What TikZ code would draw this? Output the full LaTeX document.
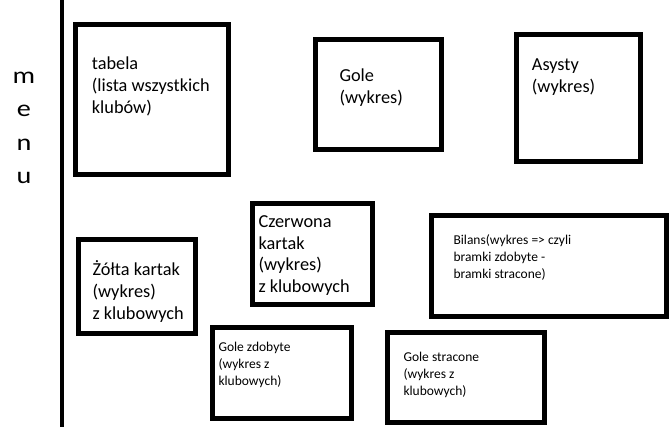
\documentclass[tikz,border=0pt]{standalone}
\usepackage{fontspec}
\usepackage{graphicx}
\setmainfont{Carlito}
\newcommand{\wide}[1]{\scalebox{1.2}[1]{#1}}
\begin{document}
\begin{tikzpicture}[x=1pt,y=-1pt,
  box/.style={draw=black,line width=5pt},
  big/.style={anchor=base west,align=left,inner sep=0pt,font=\fontsize{18.3}{21.6}\selectfont},
  small/.style={anchor=base west,align=left,inner sep=0pt,font=\fontsize{13.5}{16.7}\selectfont}]
\useasboundingbox (0,0) rectangle (670,427);
\coordinate (railtop) at (61.8,0);
\coordinate (railbot) at (61.8,427);
\draw[line width=4.5pt] (railtop) -- (railbot);
\node[anchor=base,align=center,inner sep=0pt,font=\fontsize{23.5}{33.5}\selectfont] (menu) at (24,184) {\wide{m}\\\wide{e}\\\wide{n}\\\wide{u}};
% boxes
\draw[box] (75,25) rectangle (228,175);
\node[big] (tabela) at (91.7,113.2) {tabela\\(lista wszystkich\\klubów)};
\draw[box] (315,40) rectangle (441,150);
\node[big] (gole) at (339.3,103.6) {Gole\\(wykres)};
\draw[box] (516,35) rectangle (640,162);
\node[big] (asysty) at (531.7,92.6) {Asysty\\(wykres)};
\draw[box] (78,240) rectangle (195,334);
\node[big] (zolta) at (92.3,319.2) {Żółta kartak\\(wykres)\\z klubowych};
\draw[box] (252.5,203.5) rectangle (372,305);
\node[big] (czerwona) at (258.3,292.5) {Czerwona\\kartak\\(wykres)\\z klubowych};
\draw[box] (431.5,216) rectangle (666,317);
\node[small] (bilans) at (453.3,278.4) {Bilans(wykres => czyli\\bramki zdobyte -\\bramki stracone)};
\draw[box] (212.5,327.5) rectangle (351,419);
\node[small] (zdobyte) at (218.3,385.1) {Gole zdobyte\\(wykres z\\klubowych)};
\draw[box] (387.5,332.5) rectangle (544,422.5);
\node[small] (stracone) at (403.3,395.1) {Gole stracone\\(wykres z\\klubowych)};
\end{tikzpicture}
\end{document}
